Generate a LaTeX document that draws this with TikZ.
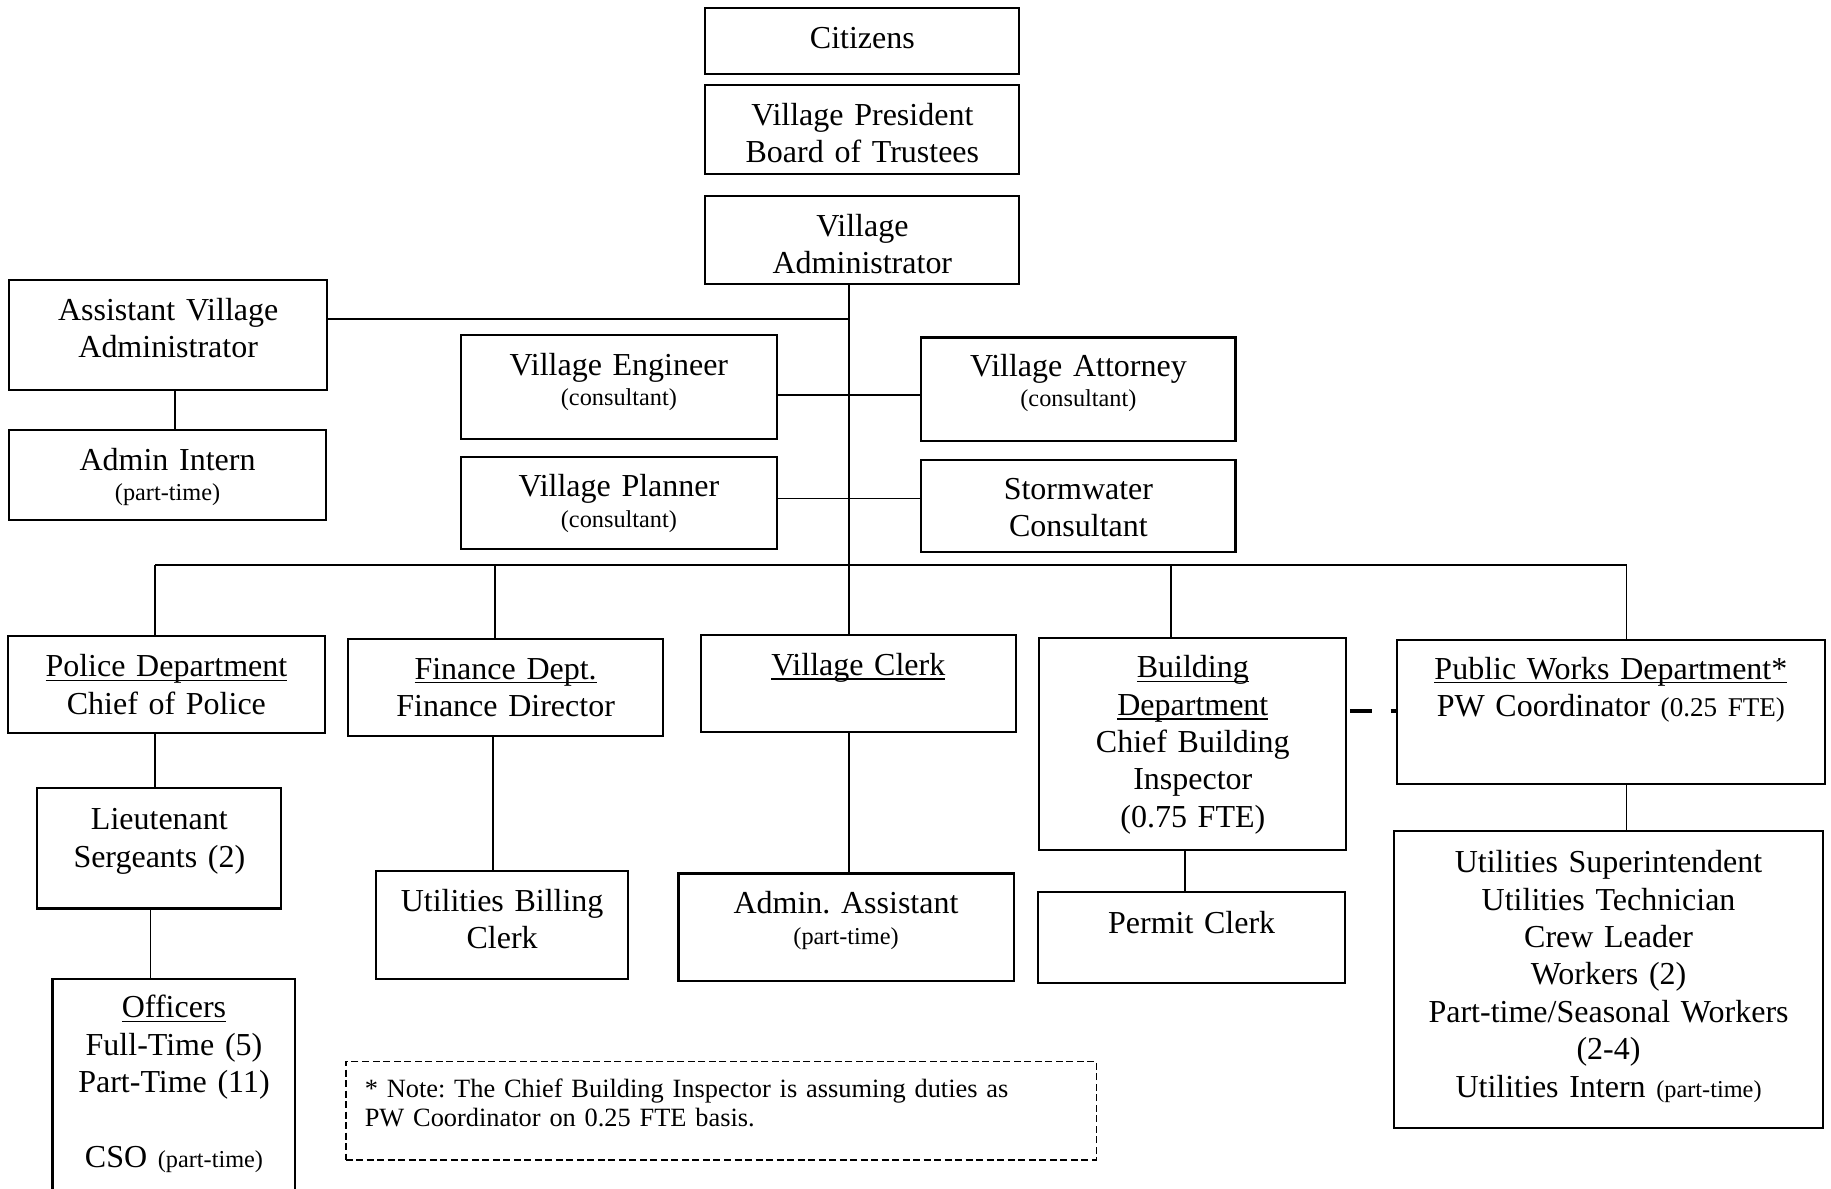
\documentclass[tikz,border=0pt]{standalone}
\usepackage{fontspec}
\setmainfont{Liberation Serif}
\usetikzlibrary{fit}
\frenchspacing
\newcommand\smalltxt{\fontsize{10.4}{12}\selectfont}
\newcommand\ftetxt{\fontsize{11.6}{14}\selectfont}
\newcommand\ulx[1]{\setbox0\hbox{#1}\leavevmode\rlap{\rule[-1.9pt]{\wd0}{0.65pt}}\box0}
\begin{document}
\begin{tikzpicture}[x=0.5pt,y=-0.5pt,
  box/.style={draw, line width=0.9pt, inner sep=0pt, fill=none},
  txt/.style={anchor=base, align=center, text width=190pt, inner sep=0pt,
              font=\fontsize{13.7}{16}\selectfont},
  conn/.style={line width=0.7pt},
  coordlink/.style={line width=1.8pt, dash pattern=on 9.5pt off 8pt on 3pt off 20pt}]
\useasboundingbox (0,0) rectangle (1568,1018);
\fill[white] (0,0) rectangle (1568,1018);
\clip (0,0) rectangle (1568,1018);

% boxes
\node[box, fit={(604,7) (873,63)}] (cit) {};
\node[box, fit={(604,73) (873,149)}] (pres) {};
\node[box, fit={(604,168) (873,243)}] (va) {};
\node[box, fit={(8,240) (280,334)}] (ava) {};
\node[box, fit={(8,368) (279,445)}] (intern) {};
\node[box, fit={(395,287) (665,376)}] (eng) {};
\node[box, fit={(789,289) (1058,378)}] (att) {};
\node[box, fit={(395,391) (665,470)}] (plan) {};
\node[box, fit={(789,394) (1058,473)}] (storm) {};
\node[box, fit={(7,545) (278,628)}] (police) {};
\node[box, fit={(298,547) (568,630)}] (fin) {};
\node[box, fit={(600,544) (870,627)}] (clerk) {};
\node[box, fit={(890,546) (1153,728)}] (bldg) {};
\node[box, fit={(1196,548) (1563,671)}] (pw) {};
\node[box, fit={(32,675) (241,778)}] (lt) {};
\node[box, fit={(45,838) (253,1040)}] (off) {};
\node[box, fit={(322,746) (538,838)}] (ubc) {};
\node[box, fit={(581,748) (868,840)}] (aa) {};
\node[box, fit={(889,764) (1152,842)}] (pc) {};
\node[box, fit={(1194,712) (1561,966)}] (util) {};
\node[box, dashed, dash pattern=on 3pt off 1.5pt, line width=0.8pt, fit={(296,909) (939,993)}] (note) {};

% texts
\node[txt] (citT) at (738.5,41.5) {Citizens};
\node[txt] (presT) at (738.5,107.5) {Village President\\Board of Trustees};
\node[txt] (vaT) at (738.5,202.5) {Village\\Administrator};
\node[txt] (avaT) at (144,274.5) {Assistant Village\\Administrator};
\node[txt] (internT) at (143.5,402.5) {Admin Intern\\[-3pt]{\smalltxt (part-time)}};
\node[txt] (engT) at (530,321.5) {Village Engineer\\[-3pt]{\smalltxt (consultant)}};
\node[txt] (attT) at (923.5,322.5) {Village Attorney\\[-3pt]{\smalltxt (consultant)}};
\node[txt] (planT) at (530,425.5) {Village Planner\\[-3pt]{\smalltxt (consultant)}};
\node[txt] (stormT) at (923.5,427.5) {Stormwater\\Consultant};
\node[txt] (policeT) at (142.5,579.5) {\ulx{Police Department}\\Chief of Police};
\node[txt] (finT) at (433,581.5) {\ulx{Finance Dept.}\\Finance Director};
\node[txt] (clerkT) at (735,578.5) {\ulx{Village Clerk}};
\node[txt] (bldgT) at (1021.5,580.5) {\ulx{Building}\\\ulx{Department}\\Chief Building\\Inspector\\(0.75 FTE)};
\node[txt] (pwT) at (1379.5,581.5) {\ulx{Public Works Department*}\\PW Coordinator {\ftetxt (0.25 FTE)}};
\node[txt] (ltT) at (136.5,710.5) {Lieutenant\\Sergeants (2)};
\node[txt] (offT) at (149,871.5) {\ulx{Officers}\\Full-Time (5)\\Part-Time (11)\\[16pt]CSO {\smalltxt (part-time)}};
\node[txt] (ubcT) at (430,780.5) {Utilities Billing\\Clerk};
\node[txt] (aaT) at (724.5,782.5) {Admin. Assistant\\[-3pt]{\smalltxt (part-time)}};
\node[txt] (pcT) at (1020.5,799.5) {Permit Clerk};
\node[txt] (utilT) at (1377.5,747.5) {Utilities Superintendent\\Utilities Technician\\Crew Leader\\Workers (2)\\Part-time/Seasonal Workers\\(2-4)\\Utilities Intern {\smalltxt (part-time)}};
\node[anchor=base west, align=left, text width=320pt, inner sep=0pt,
      font=\fontsize{11.3}{12.5}\selectfont] (noteT) at (312,940)
  {* Note: The Chief Building Inspector is assuming duties as\\PW Coordinator on 0.25 FTE basis.};

% junction coordinates
\coordinate (j1) at (727,273);
\coordinate (j2) at (727,338);
\coordinate (j3) at (727,427);
\coordinate (d1) at (133,484);
\coordinate (d2) at (424,484);
\coordinate (d3) at (727,484);
\coordinate (d4) at (1003,484);
\coordinate (d5) at (1393,484);
\coordinate (d6) at (129,0);
\coordinate (d7) at (422,0);
\coordinate (d8) at (1015,0);
\coordinate (d9) at (150,0);
\coordinate (d10) at (0,609);

% connectors
\draw[conn] (va.south -| d3) -- (clerk.north -| d3);
\draw[conn] (ava.east |- j1) -- (j1);
\draw[conn] (eng.east |- j2) -- (att.west |- j2);
\draw[conn] (plan.east |- j3) -- (storm.west |- j3);
\draw[conn] (d1) -- (d5);
\draw[conn] (d1) -- (police.north -| d1);
\draw[conn] (d2) -- (fin.north -| d2);
\draw[conn] (d4) -- (bldg.north -| d4);
\draw[conn] (d5) -- (pw.north -| d5);
\draw[conn] (ava.south -| d9) -- (intern.north -| d9);
\draw[conn] (police.south -| d1) -- (lt.north -| d1);
\draw[conn] (lt.south -| d6) -- (off.north -| d6);
\draw[conn] (fin.south -| d7) -- (ubc.north -| d7);
\draw[conn] (clerk.south -| d3) -- (aa.north -| d3);
\draw[conn] (bldg.south -| d8) -- (pc.north -| d8);
\draw[conn] (pw.south -| d5) -- (util.north -| d5);
\draw[coordlink] ([xshift=1pt]bldg.east |- d10) -- (pw.west |- d10);
\end{tikzpicture}
\end{document}
